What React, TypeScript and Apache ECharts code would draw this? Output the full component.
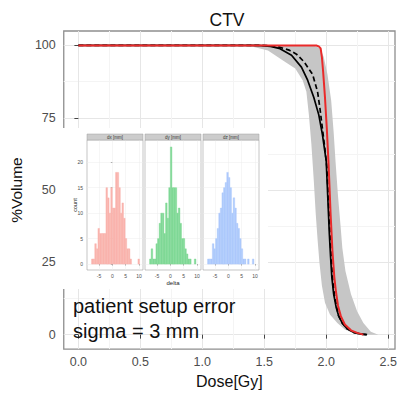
import React, { useEffect, useRef } from 'react';
import * as echarts from 'echarts';

// ---------- main DVH chart data ----------
const doseTicks = [0, 0.5, 1, 1.5, 2, 2.5];
const doseMinorTicks = [0.25, 0.75, 1.25, 1.75, 2.25];
const volumeTicks = [0, 25, 50, 75, 100];
const volumeMinorTicks = [12.5, 37.5, 62.5, 87.5];

// planned (nominal) DVH - red
const nominalDVH: [number, number][] = [
  [0, 100], [1.92, 100], [1.94, 99.7], [1.955, 99], [1.965, 96], [1.975, 91],
  [1.99, 82], [2.005, 71], [2.02, 58], [2.035, 42], [2.05, 29], [2.065, 20],
  [2.078, 15], [2.095, 10], [2.118, 6.4], [2.15, 3.5], [2.2, 1.5], [2.25, 0.6], [2.3, 0],
];
// mean DVH - black solid
const meanDVH: [number, number][] = [
  [0, 100], [1.45, 100], [1.55, 99.7], [1.62, 99], [1.72, 96.6], [1.8, 92.5],
  [1.85, 88], [1.9, 82], [1.94, 76], [1.97, 69], [2.0, 60], [2.012, 48],
  [2.025, 35], [2.035, 27], [2.045, 20], [2.06, 14], [2.08, 9.5], [2.1, 6.5],
  [2.13, 4], [2.17, 2], [2.22, 0.8], [2.28, 0.2], [2.33, 0],
];
// median DVH - black dashed
const medianDVH: [number, number][] = [
  [0, 100], [1.5, 100], [1.6, 99.7], [1.7, 98.4], [1.76, 97], [1.82, 94.4],
  [1.89, 90], [1.93, 84], [1.95, 78], [1.97, 71], [1.99, 64], [2.005, 58],
  [2.017, 47], [2.03, 35], [2.04, 27], [2.05, 20], [2.065, 14], [2.085, 9.5],
  [2.1, 6.5], [2.13, 4], [2.17, 2], [2.22, 0.8], [2.28, 0.2], [2.33, 0],
];
// grey band (range of DVHs)
const bandLower: [number, number][] = [
  [1.2, 100], [1.3, 100], [1.4, 99.6], [1.53, 98.3], [1.66, 94.5], [1.75, 92],
  [1.81, 88], [1.84, 84], [1.86, 76], [1.88, 66], [1.9, 53], [1.915, 42],
  [1.93, 33], [1.945, 25], [1.965, 17], [1.99, 11], [2.03, 7], [2.09, 4],
  [2.15, 1.8], [2.25, 0],
];
const bandUpper: [number, number][] = [
  [1.2, 100], [1.9, 100], [1.95, 99], [1.98, 96], [2.01, 90], [2.04, 81],
  [2.06, 70], [2.075, 60], [2.095, 48], [2.115, 38], [2.13, 30], [2.155, 22],
  [2.2, 14], [2.25, 8], [2.3, 4], [2.36, 1], [2.42, 0],
];

// ---------- inset histogram data ----------
const binLefts = [
  -7.8, -7.2, -6.6, -6.0, -5.4, -4.8, -4.2, -3.6, -3.0, -2.4,
  -1.8, -1.2, -0.6, 0.0, 0.6, 1.2, 1.8, 2.4, 3.0, 3.6,
  4.2, 4.8, 5.4, 6.0, 6.6, 7.2, 7.8, 8.4, 9.0, 9.6,
];
const binWidth = 0.6;
const dxCounts = [1, 1, 4, 3, 7, 6, 6, 6, 6, 15, 13, 10, 15, 11, 11, 18, 18, 15, 10, 12, 9, 5, 3, 3, 1, 0, 0, 0, 0, 1];
const dyCounts = [1, 3, 1, 1, 4, 5, 8, 10, 10, 6, 12, 9, 15, 23, 15, 15, 15, 10, 11, 8, 5, 5, 3, 2, 1, 1, 0, 0, 1, 0];
const dzCounts = [1, 1, 1, 4, 3, 5, 7, 10, 11, 14, 15, 16, 18, 17, 15, 10, 13, 11, 8, 7, 5, 3, 1, 1, 0, 1, 0, 0, 1, 0];
const panelNames = ['dx [mm]', 'dy [mm]', 'dz [mm]'];
const panelCounts = [dxCounts, dyCounts, dzCounts];
const panelColors = ['#f9b4ae', '#80d996', '#aecafc'];
const deltaTicks = [-5, 0, 5, 10];
const countTicks = [0, 5, 10, 15, 20];

const FONT = '"Liberation Sans", Arial, Helvetica, sans-serif';

const panelLefts = [87, 145, 203];
const panelW = 56;
const panelTop = 140;
const panelH = 130;

export default function App() {
  const ref = useRef<HTMLDivElement>(null);
  useEffect(() => {
    if (!ref.current) return;
    const chart = echarts.init(ref.current, undefined, { renderer: 'svg' });

    const grids: any[] = [
      { left: 59, top: 31, width: 336, height: 325, show: true, borderColor: '#8e8e8e', borderWidth: 1.3, backgroundColor: 'transparent', containLabel: false },
    ];
    panelLefts.forEach((l) => {
      grids.push({ left: l, top: panelTop, width: panelW, height: panelH, show: true, backgroundColor: '#ffffff', borderColor: '#a0a0a0', borderWidth: 0.6, z: 2 });
    });

    const xAxes: any[] = [
      {
        gridIndex: 0, type: 'value', min: -0.118, max: 2.555,
        axisLine: { show: false },
        axisTick: { show: true, length: 4, customValues: doseTicks, lineStyle: { color: '#444' } },
        axisLabel: { customValues: doseTicks, fontSize: 12.5, color: '#4d4d4d', margin: 6, fontFamily: FONT, formatter: (v: number) => v.toFixed(1) },
        splitLine: { show: true, lineStyle: { color: '#e6e6e6', width: 1 } },
        name: 'Dose[Gy]', nameLocation: 'middle', nameGap: 23,
        nameTextStyle: { fontSize: 16, color: '#111', fontFamily: FONT },
      },
      {
        gridIndex: 0, type: 'value', min: -0.118, max: 2.555, position: 'bottom',
        axisLine: { show: false },
        axisTick: { show: false, customValues: doseMinorTicks },
        axisLabel: { show: false },
        splitLine: { show: true, lineStyle: { color: '#f4f4f4', width: 1 } },
      },
    ];
    const yAxes: any[] = [
      {
        gridIndex: 0, type: 'value', min: -5, max: 105,
        axisLine: { show: false },
        axisTick: { show: true, length: 4, customValues: volumeTicks, lineStyle: { color: '#444' } },
        axisLabel: { customValues: volumeTicks, fontSize: 12.5, color: '#4d4d4d', margin: 8, fontFamily: FONT },
        splitLine: { show: true, lineStyle: { color: '#e6e6e6', width: 1 } },
        name: '%Volume', nameLocation: 'middle', nameGap: 29.5,
        nameTextStyle: { fontSize: 15.5, color: '#111', fontFamily: FONT },
      },
      {
        gridIndex: 0, type: 'value', min: -5, max: 105, position: 'left',
        axisLine: { show: false },
        axisTick: { show: false, customValues: volumeMinorTicks },
        axisLabel: { show: false },
        splitLine: { show: true, lineStyle: { color: '#f4f4f4', width: 1 } },
      },
    ];

    const PANEL_AXIS_OFFSET = 2; // first two axes of each kind belong to the main plot
    panelLefts.forEach((_, i) => {
      xAxes.push({
        gridIndex: i + 1, type: 'value', min: -9.5, max: 11.5, z: 3,
        axisLine: { show: false },
        axisTick: { show: true, length: 1.5, customValues: deltaTicks, lineStyle: { color: '#666', width: 0.5 } },
        axisLabel: { customValues: deltaTicks, fontSize: 5, color: '#4d4d4d', margin: 3, fontFamily: FONT },
        splitLine: { show: true, lineStyle: { color: '#ececec', width: 0.5 } },
      });
      yAxes.push({
        gridIndex: i + 1, type: 'value', min: -1.16, max: 24.36, z: 3,
        axisLine: { show: false },
        axisTick: { show: i === 0, length: 1.5, customValues: countTicks, lineStyle: { color: '#666', width: 0.5 } },
        axisLabel: { show: i === 0, customValues: countTicks, fontSize: 5, color: '#4d4d4d', margin: 4, fontFamily: FONT },
        splitLine: { show: true, lineStyle: { color: '#ececec', width: 0.5 } },
      });
    });

    const bandPolygon = bandUpper.concat(bandLower.slice().reverse());

    const series: any[] = [
      {
        type: 'custom', xAxisIndex: 0, yAxisIndex: 0, z: 1,
        data: [[bandUpper[0][0], bandUpper[0][1]]],
        encode: { x: 0, y: 1 },
        renderItem: (_p: any, api: any) => ({
          type: 'polygon',
          shape: { points: bandPolygon.map((pt) => api.coord(pt)) },
          style: { fill: '#c6c6c6', stroke: 'none' },
        }),
        silent: true,
      },
      {
        type: 'line', xAxisIndex: 0, yAxisIndex: 0, data: meanDVH, showSymbol: false, z: 3,
        lineStyle: { color: '#000', width: 1.7 },
      },
      {
        type: 'line', xAxisIndex: 0, yAxisIndex: 0, data: medianDVH, showSymbol: false, z: 3,
        lineStyle: { color: '#000', width: 1.7, type: [5, 3] },
      },
      {
        type: 'line', xAxisIndex: 0, yAxisIndex: 0, data: nominalDVH, showSymbol: false, z: 4,
        lineStyle: { color: '#ea2a2a', width: 2 },
      },
    ];

    panelCounts.forEach((counts, i) => {
      series.push({
        type: 'custom', xAxisIndex: i + PANEL_AXIS_OFFSET, yAxisIndex: i + PANEL_AXIS_OFFSET, z: 5,
        data: binLefts.map((l, j) => [l, l + binWidth, counts[j]]).filter((d) => d[2] > 0),
        encode: { x: [0, 1], y: 2 },
        renderItem: (_p: any, api: any) => {
          const p0 = api.coord([api.value(0), 0]);
          const p1 = api.coord([api.value(1), api.value(2)]);
          return {
            type: 'rect',
            shape: { x: p0[0], y: p1[1], width: p1[0] - p0[0], height: p0[1] - p1[1] },
            style: { fill: panelColors[i], stroke: panelColors[i], lineWidth: 0.4 },
          };
        },
        silent: true,
      });
    });

    const graphics: any[] = [
      {
        type: 'text', x: 227, y: 19.5, z: 10,
        style: { text: 'CTV', fontSize: 17.5, fontFamily: FONT, fill: '#111', textAlign: 'center', textVerticalAlign: 'middle' },
      },
      {
        type: 'rect', z: 1, shape: { x: 62, y: 128, width: 206, height: 161 },
        style: { fill: '#ffffff', stroke: 'none' },
      },
      {
        type: 'text', x: 75, y: 205, rotation: Math.PI / 2, z: 6,
        style: { text: 'count', fontSize: 5.5, fontFamily: FONT, fill: '#222', textAlign: 'center', textVerticalAlign: 'middle' },
      },
      {
        type: 'text', x: 173, y: 282.5, z: 6,
        style: { text: 'delta', fontSize: 6, fontFamily: FONT, fill: '#222', textAlign: 'center', textVerticalAlign: 'middle' },
      },
      {
        type: 'text', x: 73, y: 306, z: 10,
        style: { text: 'patient setup error', fontSize: 20, fontFamily: FONT, fill: '#111', textAlign: 'left', textVerticalAlign: 'middle' },
      },
      {
        type: 'text', x: 73, y: 331, z: 10,
        style: { text: 'sigma = 3 mm', fontSize: 20, fontFamily: FONT, fill: '#111', textAlign: 'left', textVerticalAlign: 'middle' },
      },
    ];
    panelLefts.forEach((l, i) => {
      graphics.push({
        type: 'rect', z: 6, shape: { x: l, y: 134, width: panelW, height: 6 },
        style: { fill: '#cccccc', stroke: '#a0a0a0', lineWidth: 0.5 },
      });
      graphics.push({
        type: 'text', x: l + panelW / 2, y: 137.2, z: 7,
        style: { text: panelNames[i], fontSize: 4.5, fontFamily: FONT, fill: '#333', textAlign: 'center', textVerticalAlign: 'middle' },
      });
    });

    chart.setOption({
      animation: false,
      backgroundColor: '#ffffff',
      textStyle: { fontFamily: FONT },
      grid: grids,
      xAxis: xAxes,
      yAxis: yAxes,
      series,
      graphic: graphics,
    });
    return () => chart.dispose();
  }, []);

  return (
    <div
      ref={ref}
      style={{ position: 'fixed', left: 0, top: 0, width: 405, height: 394, background: '#fff' }}
    />
  );
}
